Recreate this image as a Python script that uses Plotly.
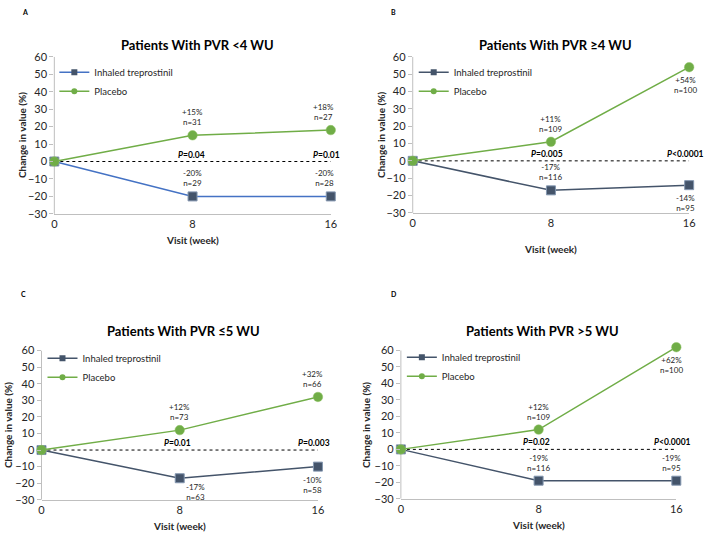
import plotly.graph_objects as go

# ---------------- data ----------------
weeks = [0, 8, 16]
panel_letters = ["A", "B", "C", "D"]
panel_titles = ["Patients With PVR &lt;4 WU", "Patients With PVR ≥4 WU",
                "Patients With PVR ≤5 WU", "Patients With PVR &gt;5 WU"]
series_names = ["Inhaled treprostinil", "Placebo"]

trep_A = [0, -20, -20]
pbo_A = [0, 15, 18]
trep_B = [0, -17, -14]
pbo_B = [0, 11, 54]
trep_C = [0, -17, -10]
pbo_C = [0, 12, 32]
trep_D = [0, -19, -19]
pbo_D = [0, 12, 62]

n_trep_A = [29, 28]
n_pbo_A = [31, 27]
n_trep_B = [116, 95]
n_pbo_B = [109, 100]
n_trep_C = [63, 58]
n_pbo_C = [73, 66]
n_trep_D = [116, 95]
n_pbo_D = [109, 100]

p_A = ["=0.04", "=0.01"]
p_B = ["=0.005", "<0.0001"]
p_C = ["=0.01", "=0.003"]
p_D = ["=0.02", "<0.0001"]

y_ticks = [-30, -20, -10, 0, 10, 20, 30, 40, 50, 60]

trep_all = [trep_A, trep_B, trep_C, trep_D]
pbo_all = [pbo_A, pbo_B, pbo_C, pbo_D]
n_trep_all = [n_trep_A, n_trep_B, n_trep_C, n_trep_D]
n_pbo_all = [n_pbo_A, n_pbo_B, n_pbo_C, n_pbo_D]
p_all = [p_A, p_B, p_C, p_D]

# ---------------- layout / style ----------------
W, H = 708, 538
FONT = "Lato, 'Open Sans', sans-serif"
GREEN = "#70AD47"
SLATE = "#44546A"
BLUE = "#4472C4"
AX = "#BFBFBF"
TXT = "#262626"

# plot boxes in pixels (axis -30..60): left, right, top, bottom
boxes = [(52, 332, 51, 212), (415, 695, 51, 211), (39, 319, 352, 505), (403, 682, 352, 504)]
y_top_extra = [0, 0, 0, 3]   # extra headroom (data units) above 60 so points > 60 show
trep_line_colors = [BLUE, SLATE, SLATE, SLATE]
title_pos = [(197, 39), (560, 39), (183, 332), (546, 332)]
letter_pos = [(22, 5), (396, 5), (21, 294), (396, 294)]
ytitle_x = [20, 383, 5, 367]
xtitle_y = [239, 248, 532, 531]
legend_pos = [(52, 52), (416, 52), (40, 345), (404, 344)]
# label placement: (above?, xshift) for points at week 8 and week 16
trep_lab = [[(True, 0), (True, -6)], [(True, 0), (False, -4)],
            [(False, 16), (False, -5)], [(True, 0), (True, -5)]]
pbo_lab = [[(True, 0), (True, -7)], [(True, 0), (False, -4)],
           [(True, 0), (True, -5)], [(True, 0), (False, -5)]]
p_shift = [[-1, -4], [-4, -4], [-2, -4], [-2, -4]]


def px_x(p):
    return p / W


def px_y(p):
    return 1 - p / H


fig = go.Figure()
annotations = []
shapes = []
layout = dict(
    width=W, height=H, margin=dict(l=0, r=0, t=0, b=0),
    paper_bgcolor="white", plot_bgcolor="white",
    font=dict(family=FONT, color=TXT),
)

for i in range(4):
    k = "" if i == 0 else str(i + 1)
    xa, ya = "x" + k, "y" + k
    L, R, T, B = boxes[i]
    ymin, ymax = y_ticks[0], y_ticks[-1]
    ppu = (B - T) / (ymax - ymin)
    T_ext = T - y_top_extra[i] * ppu
    layout["xaxis" + k] = dict(
        domain=[px_x(L), px_x(R)], anchor=ya, range=[weeks[0], weeks[-1]],
        tickvals=weeks, ticktext=[str(w) for w in weeks],
        showline=True, linecolor=AX, linewidth=1, ticks="",
        showgrid=False, zeroline=False,
        tickfont=dict(size=11, family=FONT, color=TXT),
    )
    layout["yaxis" + k] = dict(
        domain=[px_y(B), px_y(T_ext)], anchor=xa,
        range=[ymin, ymax + y_top_extra[i]],
        tickvals=y_ticks, showline=False,
        ticks="outside", ticklen=4, tickcolor=AX,
        showgrid=False, zeroline=False,
        tickfont=dict(size=11, family=FONT, color=TXT),
    )
    # y axis line spanning the tick range only
    shapes.append(dict(
        type="line", xref=xa + " domain", yref=ya, x0=0, x1=0,
        y0=ymin, y1=ymax, line=dict(color=AX, width=1), layer="below",
    ))
    lg = "legend" if i == 0 else "legend" + str(i + 1)
    lx, ly = legend_pos[i]
    layout[lg] = dict(
        x=px_x(lx), y=px_y(ly), xanchor="left", yanchor="top",
        bgcolor="rgba(0,0,0,0)", borderwidth=0,
        font=dict(size=9.5, family=FONT, color=TXT),
        tracegroupgap=0, itemwidth=30,
    )

    # dashed zero reference line
    fig.add_trace(go.Scatter(
        x=[weeks[0], weeks[-1]], y=[0, 0], mode="lines",
        line=dict(color="#000000", width=1, dash="dot"),
        xaxis=xa, yaxis=ya, showlegend=False, hoverinfo="skip",
    ))
    fig.add_trace(go.Scatter(
        x=weeks, y=trep_all[i], mode="lines+markers", name=series_names[0],
        line=dict(color=trep_line_colors[i], width=1.5),
        marker=dict(symbol="square", size=9, color=SLATE,
                    line=dict(color="#8497B0", width=1)),
        xaxis=xa, yaxis=ya, showlegend=False, cliponaxis=False,
    ))
    fig.add_trace(go.Scatter(
        x=weeks, y=pbo_all[i], mode="lines+markers", name=series_names[1],
        line=dict(color=GREEN, width=1.5),
        marker=dict(symbol="circle", size=9.5, color=GREEN,
                    line=dict(color="#8CC063", width=0.5)),
        xaxis=xa, yaxis=ya, showlegend=False, cliponaxis=False,
    ))
    # legend-only entries with small symbols (as in the reference)
    fig.add_trace(go.Scatter(
        x=[None], y=[None], mode="lines+markers", name=series_names[0],
        line=dict(color=trep_line_colors[i], width=1.5),
        marker=dict(symbol="square", size=6, color=SLATE),
        xaxis=xa, yaxis=ya, legend=lg,
    ))
    fig.add_trace(go.Scatter(
        x=[None], y=[None], mode="lines+markers", name=series_names[1],
        line=dict(color=GREEN, width=1.5),
        marker=dict(symbol="circle", size=6, color=GREEN),
        xaxis=xa, yaxis=ya, legend=lg,
    ))

    # data labels
    for vals, ns, place in ((trep_all[i], n_trep_all[i], trep_lab[i]),
                            (pbo_all[i], n_pbo_all[i], pbo_lab[i])):
        for j in range(2):
            v = vals[j + 1]
            above, xs = place[j]
            sign = "+" if v > 0 else ""
            annotations.append(dict(
                x=weeks[j + 1], y=v, xref=xa, yref=ya,
                text=f"{sign}{v}%<br>n={ns[j]}", showarrow=False,
                yanchor="bottom" if above else "top",
                yshift=6 if above else (-2 if xs > 10 else -6), xshift=xs,
                font=dict(size=8, family=FONT, color=TXT), align="center",
            ))
    # P values
    for j in range(2):
        annotations.append(dict(
            x=weeks[j + 1], y=0, xref=xa, yref=ya,
            text=f"<b><i>P</i>{p_all[i][j].replace('<', '&lt;')}</b>",
            showarrow=False, yanchor="bottom", yshift=0, xshift=p_shift[i][j],
            font=dict(size=8.5, family=FONT, color="#000000"),
        ))

    # titles and labels
    tx, ty = title_pos[i]
    annotations.append(dict(
        x=px_x(tx), y=px_y(ty), xref="paper", yref="paper",
        text=f"<b>{panel_titles[i]}</b>", showarrow=False,
        xanchor="center", yanchor="middle",
        font=dict(size=13, family=FONT, color="#000000"),
    ))
    lx_, ly_ = letter_pos[i]
    annotations.append(dict(
        x=px_x(lx_), y=px_y(ly_), xref="paper", yref="paper",
        text=f"<b>{panel_letters[i]}</b>", showarrow=False,
        xanchor="center", yanchor="middle",
        font=dict(size=7, family=FONT, color="#000000"),
    ))
    annotations.append(dict(
        x=px_x(ytitle_x[i]), y=px_y((T + B) / 2), xref="paper", yref="paper",
        text="<b>Change in value (%)</b>", showarrow=False, textangle=-90,
        xanchor="center", yanchor="middle",
        font=dict(size=10, family=FONT, color=TXT),
    ))
    annotations.append(dict(
        x=px_x((L + R) / 2), y=px_y(xtitle_y[i]), xref="paper", yref="paper",
        text="<b>Visit (week)</b>", showarrow=False,
        xanchor="center", yanchor="middle",
        font=dict(size=10, family=FONT, color=TXT),
    ))

layout["annotations"] = annotations
layout["shapes"] = shapes
layout["showlegend"] = True
fig.update_layout(**layout)
fig.write_html(
    "out.html",
    config={"displayModeBar": False},
    post_script="document.body.style.margin='0';document.body.style.overflow='hidden';",
)
